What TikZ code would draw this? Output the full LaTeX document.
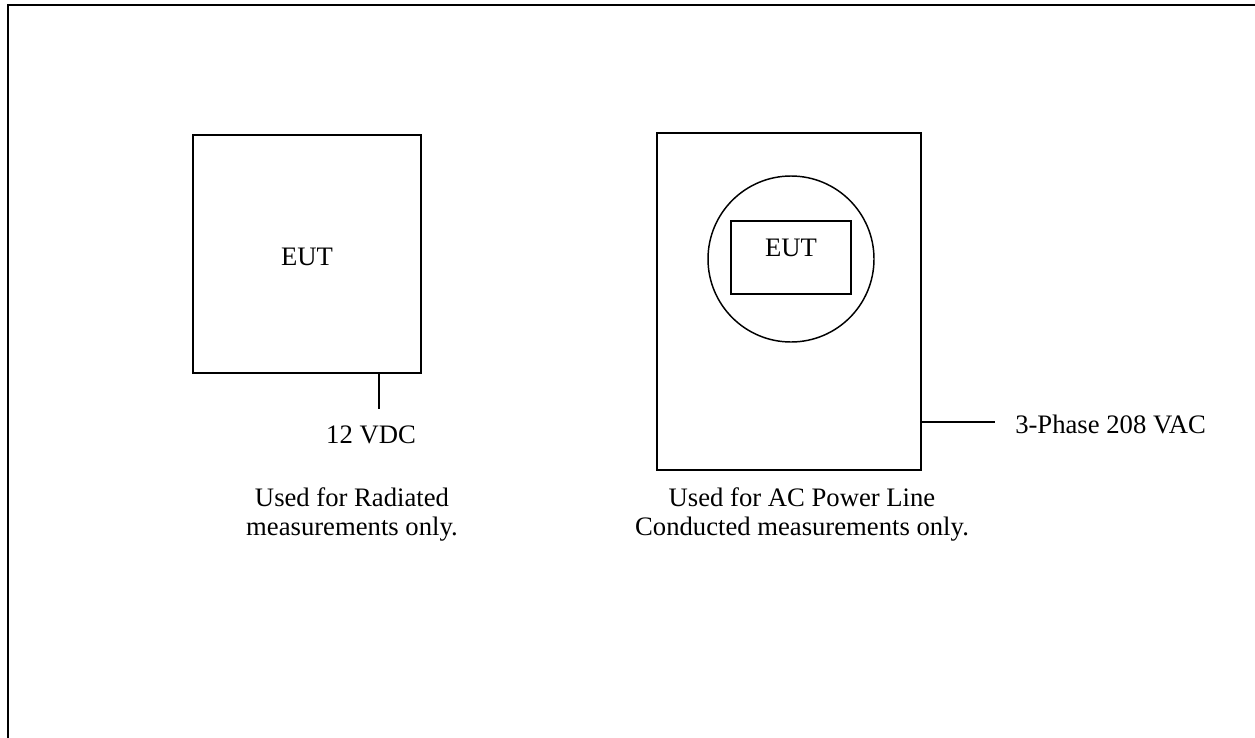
\documentclass[tikz,border=0pt]{standalone}
\usepackage{fontspec}
\setmainfont{Liberation Serif}
\usetikzlibrary{positioning, fit}

\begin{document}
\begin{tikzpicture}[x=0.75pt, y=-0.75pt, line join=miter]
		\fontsize{20}{21.75}\selectfont
		\useasboundingbox (0,0) rectangle (1255,738);

		% Frame
		\draw[line width=1.5pt] (7.7,738) -- (7.7,4.8) -- (1255,4.8);

		% Radiated setup
		\node[draw, fit={(193,135) (421,373)},
			inner sep=0pt,
			line width=1.5pt,
			label={[yshift=-2pt]center:EUT}
			] (radbox) {};
		\coordinate (vdc) at (379,409);
		\node[anchor=north, inner sep=0pt] (vdclabel) at (371,426) {12 VDC};
		\node[anchor=north, inner sep=0pt,
			align=center
			] (radnote) at (352,487) {Used for Radiated\\measurements only.};

		% Conducted setup
		\node[draw, fit={(657,133) (921,470)},
			inner sep=0pt,
			line width=1.5pt
			] (acbox) {};
		\node[draw, circle,
			minimum size=124.5pt,
			inner sep=0pt,
			line width=1.1pt
			] (chamber) at (791,259) {};
		\node[draw, fit={(731,221) (851,294)},
			inner sep=0pt,
			line width=1.5pt,
			label={[yshift=7pt]center:EUT}
			] (eut) {};
		\coordinate (acend) at (995,422);
		\node[anchor=west, inner sep=0pt] (aclabel) at (1015,424) {3-Phase 208 VAC};
		\node[anchor=north, inner sep=0pt,
			align=center
			] (acnote) at (802,487) {Used for AC Power Line\\Conducted measurements only.};

		% Edges
		\draw[line width=1pt] (vdc |- radbox.south) -- (vdc);
		\draw[line width=1pt] (acbox.east |- acend) -- (acend);
	\end{tikzpicture}
\end{document}
